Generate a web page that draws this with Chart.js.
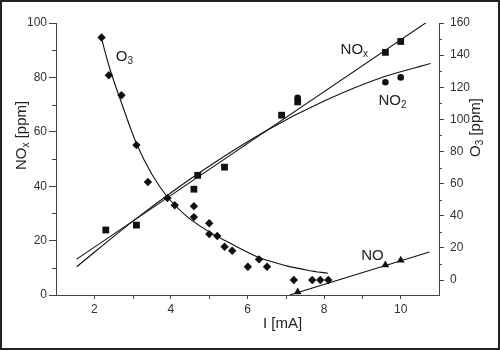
<!DOCTYPE html>
<html>
<head>
<meta charset="utf-8">
<script src="https://cdn.jsdelivr.net/npm/chart.js@4.4.0/dist/chart.umd.min.js"></script>
<style>
html, body { margin: 0; padding: 0; background: #fff; }
#wrap { position: relative; width: 500px; height: 350px; }
</style>
</head>
<body>
<div id="wrap"><canvas id="chart" width="500" height="350"></canvas></div>
<script>
// measured points, I [mA] vs ppm
const noxX = [2.30, 3.10, 4.60, 4.70, 5.40, 6.89, 7.31, 9.60, 10.0];
const noxY = [23.9, 25.7, 38.9, 44.0, 47.0, 66.1, 71.0, 89.2, 93.2];
const no2X = [7.31, 9.60, 10.0];
const no2Y = [72.5, 78.2, 80.0];
const noX = [7.31, 9.60, 10.0];
const noY = [1.1, 11.0, 12.8];
const o3X = [2.19, 2.38, 2.71, 3.10, 3.40, 3.91, 4.10, 4.60, 4.60, 5.00, 5.00, 5.21, 5.40, 5.60, 6.01, 6.30, 6.51, 7.21, 7.69, 7.90, 8.11];
const o3Y = [151, 127.5, 115, 84, 61, 51, 46.6, 46, 39.2, 35.4, 28.6, 27.4, 20.7, 18.2, 8.3, 12.9, 8.3, 0, 0, 0, 0];

// fit curves
const noxFitX = [1.54, 10.67];
const noxFitY = [13.2, 100.2];
const no2FitX = [1.54, 3.07, 4.8, 6.5, 8.0, 9.58, 10.78];
const no2FitY = [10.4, 27.8, 45.5, 60.5, 71.3, 80.3, 85.1];
const noFitX = [7.1, 10.75];
const noFitY = [0, 15.8];
const o3FitX = [2.17, 2.4, 2.7, 3.1, 3.5, 3.9, 4.4, 5.0, 5.5, 6.3, 7.0, 7.6, 8.1];
const o3FitY = [152, 132, 111, 85, 66, 52, 40, 30, 23.5, 14, 9, 6, 4.2];

// ticks
const xTicks = [2, 4, 6, 8, 10];
const xMinor = [3, 5, 7, 9];
const noxTicks = [0, 20, 40, 60, 80, 100];
const noxMinor = [10, 30, 50, 70, 90];
const o3Ticks = [0, 20, 40, 60, 80, 100, 120, 140, 160];
const o3Minor = [10, 30, 50, 70, 90, 110, 130, 150];

const FONT = "'Liberation Sans', Arial, sans-serif";
const INK = '#111';
const AXIS = '#444';

function pts(xs, ys) {
    return xs.map((x, i) => ({ x: x, y: ys[i] }));
}

function markers(data, style, r, axis) {
    return {
        data: data, yAxisID: axis, showLine: false,
        pointStyle: style, pointRadius: r, pointHoverRadius: r,
        backgroundColor: INK, borderColor: INK, borderWidth: 0
    };
}

function fit(data, axis) {
    return {
        data: data, yAxisID: axis, showLine: true,
        pointRadius: 0, pointHoverRadius: 0,
        borderColor: INK, borderWidth: 1.1,
        cubicInterpolationMode: 'monotone'
    };
}

// draws text pieces with subscripts, left to right from (x, y)
function richText(ctx, parts, x, y, size) {
    let cx = x;
    parts.forEach(p => {
        const s = p.sub ? Math.round(size * 0.68) : size;
        ctx.font = s + 'px ' + FONT;
        ctx.fillText(p.t, cx, p.sub ? y + 3 : y);
        cx += ctx.measureText(p.t).width;
    });
}

// annotation labels: left edge x and baseline y in data units (NOx axis)
const labels = [
    { parts: [{ t: 'O' }, { t: '3', sub: true }], x: 2.56, y: 86.2 },
    { parts: [{ t: 'NO' }, { t: 'x', sub: true }], x: 8.43, y: 88.7 },
    { parts: [{ t: 'NO' }, { t: '2', sub: true }], x: 9.42, y: 69.7 },
    { parts: [{ t: 'NO' }], x: 8.97, y: 12.8 }
];

const decor = {
    id: 'decor',
    afterDraw(chart) {
        const ctx = chart.ctx;
        const sx = chart.scales.x, sl = chart.scales.yL, sr = chart.scales.yR;
        ctx.save();

        // minor ticks
        ctx.strokeStyle = AXIS;
        ctx.lineWidth = 1;
        ctx.beginPath();
        xMinor.forEach(v => {
            const p = Math.round(sx.getPixelForValue(v)) + 0.5;
            ctx.moveTo(p, sx.top); ctx.lineTo(p, sx.top + 4);
        });
        noxMinor.forEach(v => {
            const p = Math.round(sl.getPixelForValue(v)) + 0.5;
            ctx.moveTo(sl.right, p); ctx.lineTo(sl.right - 4, p);
        });
        o3Minor.forEach(v => {
            const p = Math.round(sr.getPixelForValue(v)) + 0.5;
            ctx.moveTo(sr.left, p); ctx.lineTo(sr.left + 3, p);
        });
        ctx.stroke();

        ctx.fillStyle = '#222';
        ctx.textAlign = 'left';
        ctx.textBaseline = 'alphabetic';

        labels.forEach(l => {
            richText(ctx, l.parts, sx.getPixelForValue(l.x), sl.getPixelForValue(l.y), 15);
        });

        // axis titles
        richText(ctx, [{ t: 'I [mA]' }], 263, 328, 15);

        ctx.save();
        ctx.translate(26, 170);
        ctx.rotate(-Math.PI / 2);
        richText(ctx, [{ t: 'NO' }, { t: 'x', sub: true }, { t: ' [ppm]' }], 0, 0, 15);
        ctx.restore();

        ctx.save();
        ctx.translate(480, 157);
        ctx.rotate(-Math.PI / 2);
        richText(ctx, [{ t: 'O' }, { t: '3', sub: true }, { t: ' [ppm]' }], 0, 0, 15);
        ctx.restore();

        // outer frame
        ctx.strokeStyle = '#222';
        ctx.lineWidth = 2;
        ctx.strokeRect(1, 1, chart.width - 2, chart.height - 2);
        ctx.restore();
    }
};

const tickFont = { family: FONT, size: 12 };

new Chart(document.getElementById('chart').getContext('2d'), {
    type: 'scatter',
    data: {
        datasets: [
            fit(pts(noxFitX, noxFitY), 'yL'),
            fit(pts(no2FitX, no2FitY), 'yL'),
            fit(pts(noFitX, noFitY), 'yL'),
            fit(pts(o3FitX, o3FitY), 'yR'),
            markers(pts(noxX, noxY), 'rect', 4.8, 'yL'),
            markers(pts(no2X, no2Y), 'circle', 3.3, 'yL'),
            markers(pts(noX, noY), 'triangle', 4.5, 'yL'),
            markers(pts(o3X, o3Y), 'rectRot', 4.2, 'yR')
        ]
    },
    options: {
        responsive: false,
        animation: false,
        events: [],
        layout: { padding: { top: 23, left: 0, right: 0, bottom: 0 } },
        plugins: { legend: { display: false }, tooltip: { enabled: false } },
        scales: {
            x: {
                type: 'linear', position: 'bottom', min: 1, max: 11,
                afterBuildTicks: s => { s.ticks = xTicks.map(v => ({ value: v })); },
                afterFit: s => { s.height = 55; },
                ticks: { font: tickFont, color: '#333', padding: 3, maxRotation: 0 },
                grid: { drawOnChartArea: false, tickLength: 4, color: AXIS },
                border: { color: AXIS }
            },
            yL: {
                type: 'linear', position: 'left', min: 0, max: 100,
                afterBuildTicks: s => { s.ticks = noxTicks.map(v => ({ value: v })); },
                afterFit: s => { s.width = 56; },
                ticks: { font: tickFont, color: '#333', padding: 2 },
                grid: { drawOnChartArea: false, tickLength: 7, color: AXIS },
                border: { color: AXIS }
            },
            yR: {
                type: 'linear', position: 'right', min: -9.3, max: 160,
                afterBuildTicks: s => { s.ticks = o3Ticks.map(v => ({ value: v })); },
                afterFit: s => { s.width = 61; },
                ticks: { font: tickFont, color: '#333', padding: 6 },
                grid: { drawOnChartArea: false, tickLength: 5, color: AXIS },
                border: { color: AXIS }
            }
        }
    },
    plugins: [decor]
});
</script>
</body>
</html>
